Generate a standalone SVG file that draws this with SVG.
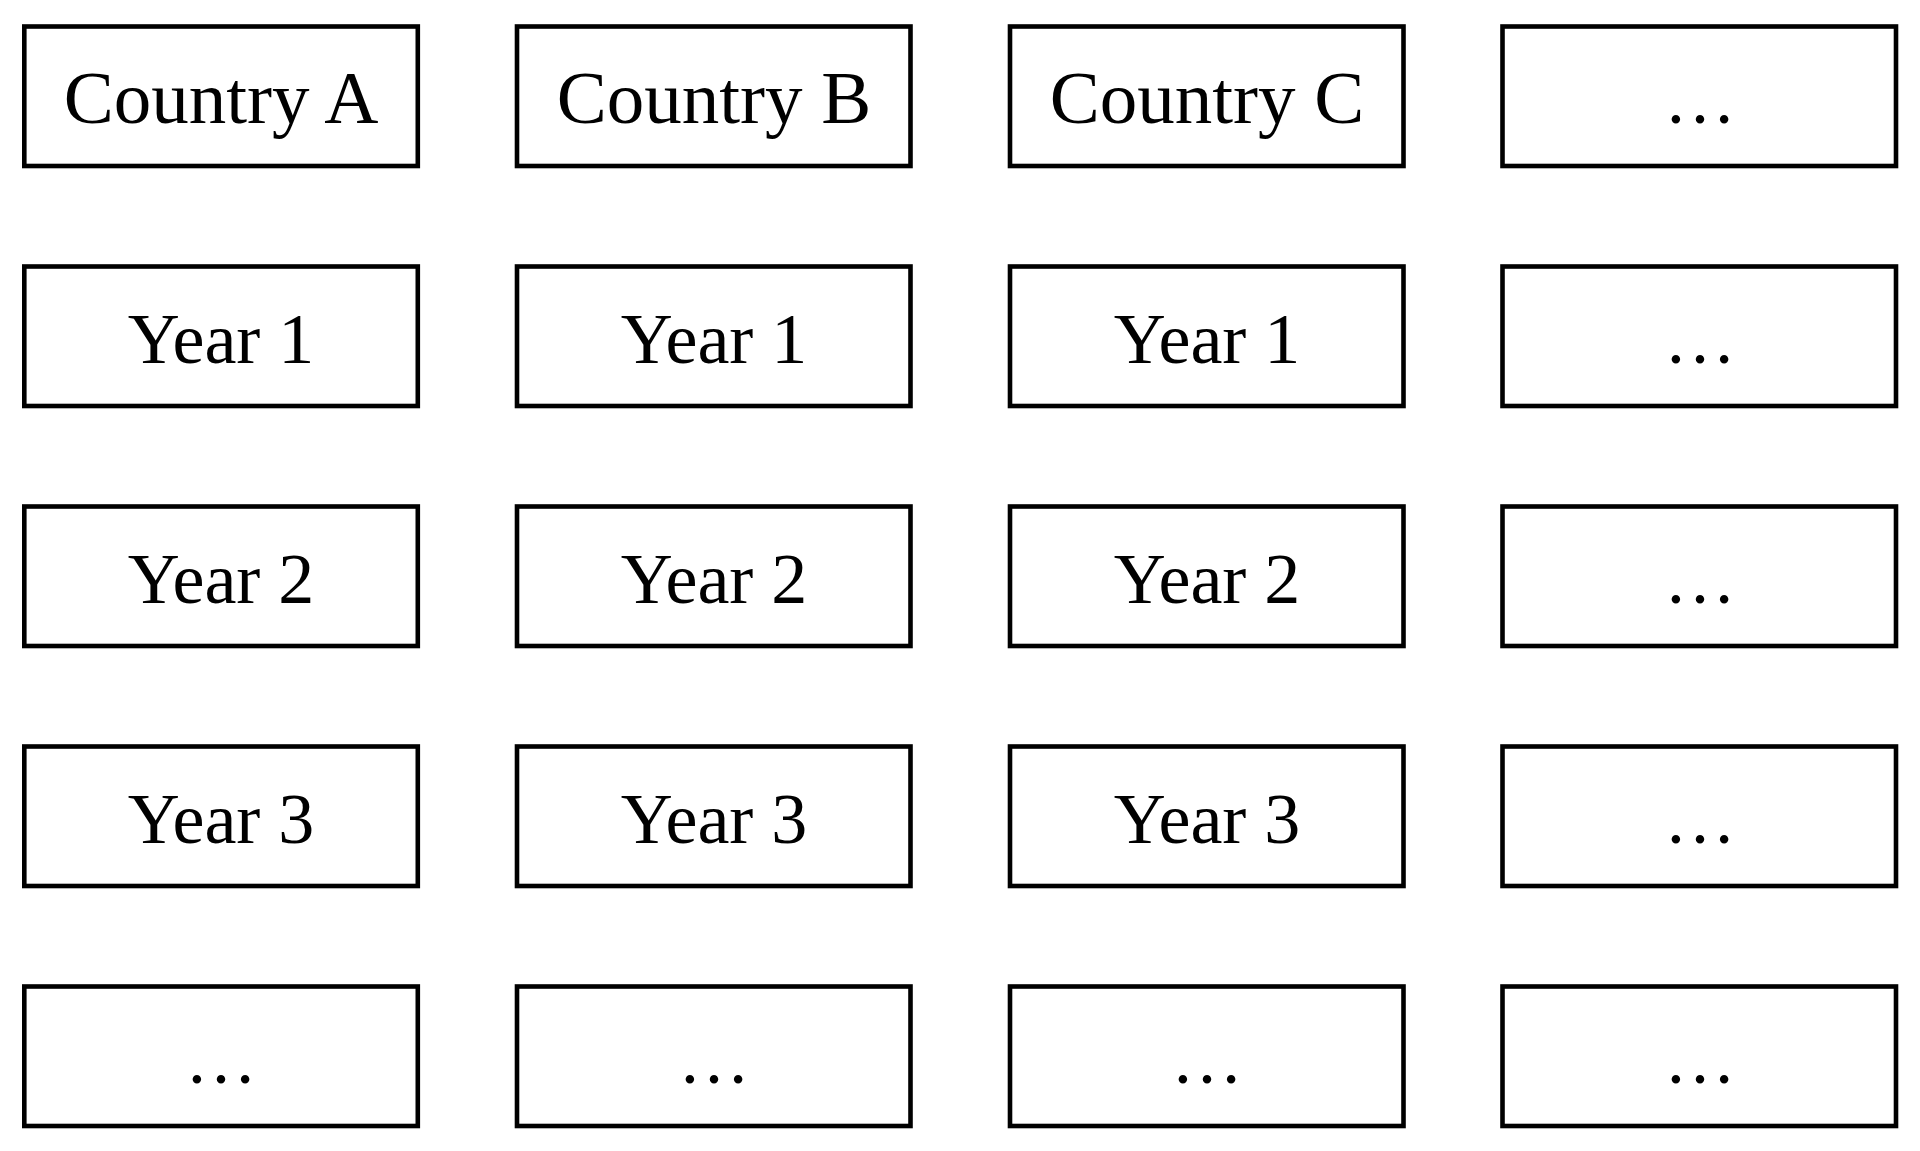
<svg xmlns="http://www.w3.org/2000/svg" width="1920" height="1151" viewBox="0 0 1920 1151">
<style>
.b{fill:#fff;stroke:#000;stroke-width:4.6}
.t{font-family:"Liberation Serif","Times New Roman",serif;font-size:72px;text-anchor:middle;fill:#000}
.c{font-size:75px}
</style>
<rect width="1920" height="1151" fill="#fff"/>
<g id="r1c1"><rect class="b" x="24.3" y="26.5" width="393.5" height="139.5"/><text class="t c" x="221" y="123">Country A</text></g>
<g id="r1c2"><rect class="b" x="517" y="26.5" width="393.5" height="139.5"/><text class="t c" x="714" y="123">Country B</text></g>
<g id="r1c3"><rect class="b" x="1010" y="26.5" width="393.5" height="139.5"/><text class="t c" x="1207" y="123">Country C</text></g>
<g id="r1c4"><rect class="b" x="1502.5" y="26.5" width="393.5" height="139.5"/><text class="t" x="1700" y="123">…</text></g>
<g id="r2c1"><rect class="b" x="24.3" y="266.5" width="393.5" height="139.5"/><text class="t" x="221" y="363">Year 1</text></g>
<g id="r2c2"><rect class="b" x="517" y="266.5" width="393.5" height="139.5"/><text class="t" x="714" y="363">Year 1</text></g>
<g id="r2c3"><rect class="b" x="1010" y="266.5" width="393.5" height="139.5"/><text class="t" x="1207" y="363">Year 1</text></g>
<g id="r2c4"><rect class="b" x="1502.5" y="266.5" width="393.5" height="139.5"/><text class="t" x="1700" y="363">…</text></g>
<g id="r3c1"><rect class="b" x="24.3" y="506.5" width="393.5" height="139.5"/><text class="t" x="221" y="603">Year 2</text></g>
<g id="r3c2"><rect class="b" x="517" y="506.5" width="393.5" height="139.5"/><text class="t" x="714" y="603">Year 2</text></g>
<g id="r3c3"><rect class="b" x="1010" y="506.5" width="393.5" height="139.5"/><text class="t" x="1207" y="603">Year 2</text></g>
<g id="r3c4"><rect class="b" x="1502.5" y="506.5" width="393.5" height="139.5"/><text class="t" x="1700" y="603">…</text></g>
<g id="r4c1"><rect class="b" x="24.3" y="746.5" width="393.5" height="139.5"/><text class="t" x="221" y="843">Year 3</text></g>
<g id="r4c2"><rect class="b" x="517" y="746.5" width="393.5" height="139.5"/><text class="t" x="714" y="843">Year 3</text></g>
<g id="r4c3"><rect class="b" x="1010" y="746.5" width="393.5" height="139.5"/><text class="t" x="1207" y="843">Year 3</text></g>
<g id="r4c4"><rect class="b" x="1502.5" y="746.5" width="393.5" height="139.5"/><text class="t" x="1700" y="843">…</text></g>
<g id="r5c1"><rect class="b" x="24.3" y="986.5" width="393.5" height="139.5"/><text class="t" x="221" y="1083">…</text></g>
<g id="r5c2"><rect class="b" x="517" y="986.5" width="393.5" height="139.5"/><text class="t" x="714" y="1083">…</text></g>
<g id="r5c3"><rect class="b" x="1010" y="986.5" width="393.5" height="139.5"/><text class="t" x="1207" y="1083">…</text></g>
<g id="r5c4"><rect class="b" x="1502.5" y="986.5" width="393.5" height="139.5"/><text class="t" x="1700" y="1083">…</text></g>
<g id="connectors"/>
</svg>
